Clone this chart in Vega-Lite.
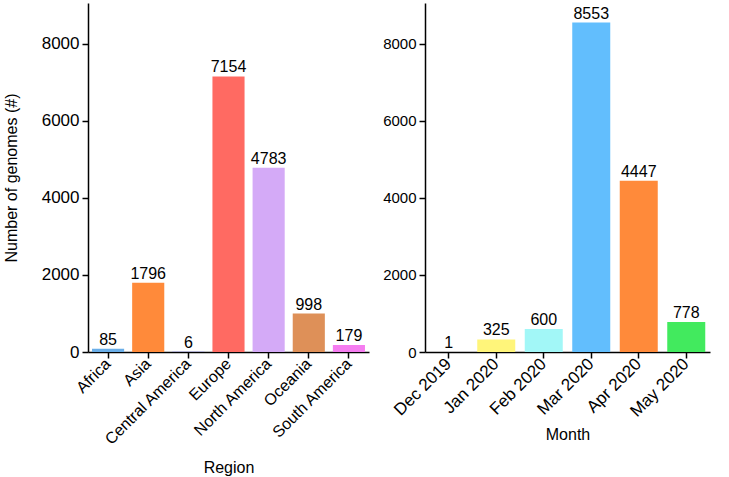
{
  "$schema": "https://vega.github.io/schema/vega-lite/v6.json",
  "background": "white",
  "padding": {"left": 3, "top": 3, "right": 3, "bottom": 5},
  "config": {
    "font": "Liberation Sans",
    "view": {"stroke": null},
    "axis": {
      "grid": false,
      "domainColor": "black",
      "domainWidth": 1.5,
      "tickColor": "black",
      "tickWidth": 1.5,
      "tickSize": 6,
      "labelFontSize": 16,
      "labelColor": "black",
      "labelPadding": 3,
      "titleFontSize": 16,
      "titleFontWeight": "normal",
      "titleColor": "black"
    },
    "concat": {"spacing": 13}
  },
  "datasets": {
    "regions": [
      {"region": "Africa", "count": 85, "color": "#6aaee8"},
      {"region": "Asia", "count": 1796, "color": "#ff8a3a"},
      {"region": "Central America", "count": 6, "color": "#7f7fff"},
      {"region": "Europe", "count": 7154, "color": "#ff6a62"},
      {"region": "North America", "count": 4783, "color": "#d4aaf7"},
      {"region": "Oceania", "count": 998, "color": "#de9058"},
      {"region": "South America", "count": 179, "color": "#f57df0"}
    ],
    "months": [
      {"month": "Dec 2019", "count": 1, "color": "#c07fff"},
      {"month": "Jan 2020", "count": 325, "color": "#fff57a"},
      {"month": "Feb 2020", "count": 600, "color": "#a2f7f7"},
      {"month": "Mar 2020", "count": 8553, "color": "#62befd"},
      {"month": "Apr 2020", "count": 4447, "color": "#ff8a3a"},
      {"month": "May 2020", "count": 778, "color": "#42ea5e"}
    ]
  },
  "hconcat": [
    {
      "width": 281,
      "height": 349,
      "data": {"name": "regions"},
      "encoding": {
        "x": {
          "field": "region",
          "type": "nominal",
          "sort": null,
          "title": "Region",
          "scale": {"paddingInner": 0.2, "paddingOuter": 0.1},
          "axis": {"labelAngle": -45, "labelAlign": "right", "labelBaseline": "middle", "titlePadding": 12}
        },
        "y": {
          "field": "count",
          "type": "quantitative",
          "title": "Number of genomes (#)",
          "scale": {"domain": [0, 9060], "nice": false},
          "axis": {"values": [0, 2000, 4000, 6000, 8000], "format": "d", "labelFontSize": 17, "titlePadding": 22}
        }
      },
      "layer": [
        {"mark": {"type": "bar"}, "encoding": {"color": {"field": "color", "type": "nominal", "scale": null}}},
        {"mark": {"type": "text", "baseline": "bottom", "dy": -1, "fontSize": 16, "color": "black"}, "encoding": {"text": {"field": "count", "type": "quantitative", "format": "d"}}}
      ]
    },
    {
      "width": 285,
      "height": 349,
      "data": {"name": "months"},
      "encoding": {
        "x": {
          "field": "month",
          "type": "nominal",
          "sort": null,
          "title": "Month",
          "scale": {"paddingInner": 0.2, "paddingOuter": 0.1},
          "axis": {"labelAngle": -45, "labelAlign": "right", "labelBaseline": "middle", "labelFontSize": 17, "titlePadding": 7}
        },
        "y": {
          "field": "count",
          "type": "quantitative",
          "title": null,
          "scale": {"domain": [0, 9060], "nice": false},
          "axis": {"values": [0, 2000, 4000, 6000, 8000], "format": "d", "labelFontSize": 15}
        }
      },
      "layer": [
        {"mark": {"type": "bar"}, "encoding": {"color": {"field": "color", "type": "nominal", "scale": null}}},
        {"mark": {"type": "text", "baseline": "bottom", "dy": -1, "fontSize": 16, "color": "black"}, "encoding": {"text": {"field": "count", "type": "quantitative", "format": "d"}}}
      ]
    }
  ]
}
